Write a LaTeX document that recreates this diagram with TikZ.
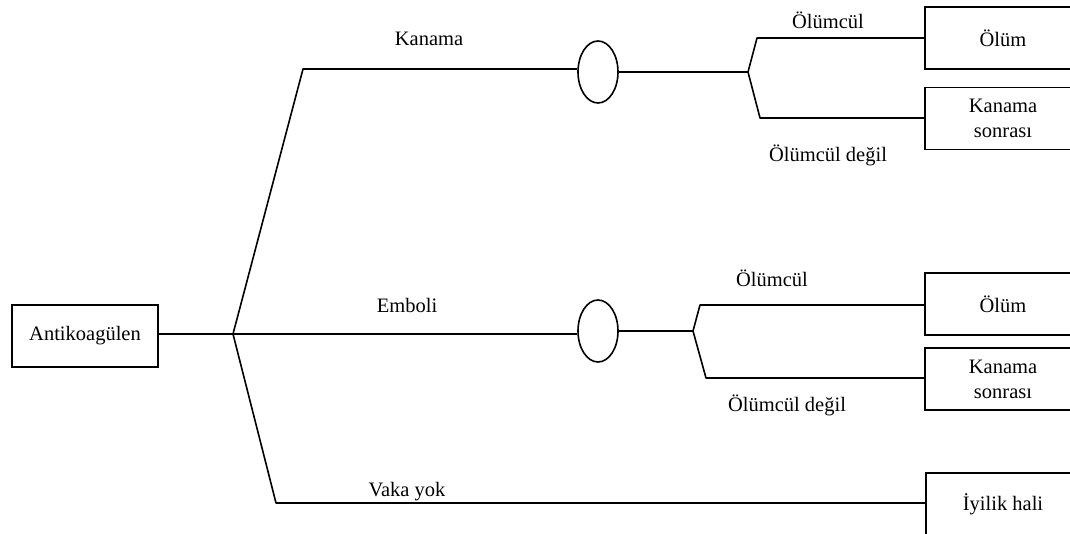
\documentclass[tikz,border=0pt]{standalone}
\usepackage{fontspec}
\setmainfont{Liberation Serif}
\usetikzlibrary{shapes.geometric}
\begin{document}
\begin{tikzpicture}[x=1pt,y=-1pt,
  every node/.style={font=\fontsize{20.5}{24}\selectfont, inner sep=0pt},
  wire/.style={line width=1.6pt, line join=round},
  stem/.style={line width=2.8pt},
  box/.style={draw, line width=1.6pt, rectangle, minimum height=62pt, align=center},
  outcome/.style={box, minimum width=156pt, text width=156pt},
  chance/.style={draw, line width=1.6pt, ellipse, minimum width=40pt, minimum height=62pt},
  lbl/.style={anchor=center}]
\clip (0,0) rectangle (1070,534);
\fill[white] (0,0) rectangle (1070,534);

% decision root
\node[box, minimum width=146pt] (ant) at (85,336) {Antikoagülen};
\coordinate (root) at (233,334);
\coordinate (rs) at (200,334);

% first-level branch corners
\coordinate (kc) at (303,69);
\coordinate (vc) at (276,503);

% chance nodes
\node[chance] (e1) at (598,72) {};
\node[chance] (e2) at (598,331) {};

% chance branch points
\coordinate (c1) at (748,72);
\coordinate (c1s) at (715,72);
\coordinate (c1a) at (757,38);
\coordinate (c1b) at (760,118);
\coordinate (c2) at (693,331);
\coordinate (c2s) at (660,331);
\coordinate (c2a) at (700,305);
\coordinate (c2b) at (706,378);

% terminal outcomes (right edge runs off the page)
\node[outcome] (o1) at (1003,38) {Ölüm};
\node[outcome] (o2) at (1003,118.5) {Kanama\\[1pt]sonrası};
\node[outcome] (o3) at (1003,304) {Ölüm};
\node[outcome] (o4) at (1003,379) {Kanama\\[1pt]sonrası};
\node[box, minimum width=156pt, minimum height=90pt, anchor=north west] (o5) at (925,472) {};
\node[lbl] (o5t) at (1003,504) {İyilik hali};

% connectors
\draw[wire] (ant.east |- root) -- (root);
\draw[stem] (rs) -- (root);
\draw[wire] (root) -- (kc) -- (kc -| e1.west);
\draw[wire] (root) -- (root -| e2.west);
\draw[wire] (root) -- (vc) -- (vc -| o5.west);

\draw[wire] (e1.east) -- (c1);
\draw[stem] (c1s) -- (c1);
\draw[wire] (c1) -- (c1a) -- (c1a -| o1.west);
\draw[wire] (c1) -- (c1b) -- (c1b -| o2.west);

\draw[wire] (e2.east) -- (c2);
\draw[stem] (c2s) -- (c2);
\draw[wire] (c2) -- (c2a) -- (c2a -| o3.west);
\draw[wire] (c2) -- (c2b) -- (c2b -| o4.west);

% branch labels
\node[lbl] (lk) at (429,39) {Kanama};
\node[lbl] (le) at (407,305) {Emboli};
\node[lbl] (lv) at (407,492) {Vaka yok};
\node[lbl] (l1) at (828,20) {Ölümcül};
\node[lbl] (l2) at (828,155) {Ölümcül değil};
\node[lbl] (l3) at (772,278) {Ölümcül};
\node[lbl] (l4) at (787,405) {Ölümcül değil};
\end{tikzpicture}
\end{document}
